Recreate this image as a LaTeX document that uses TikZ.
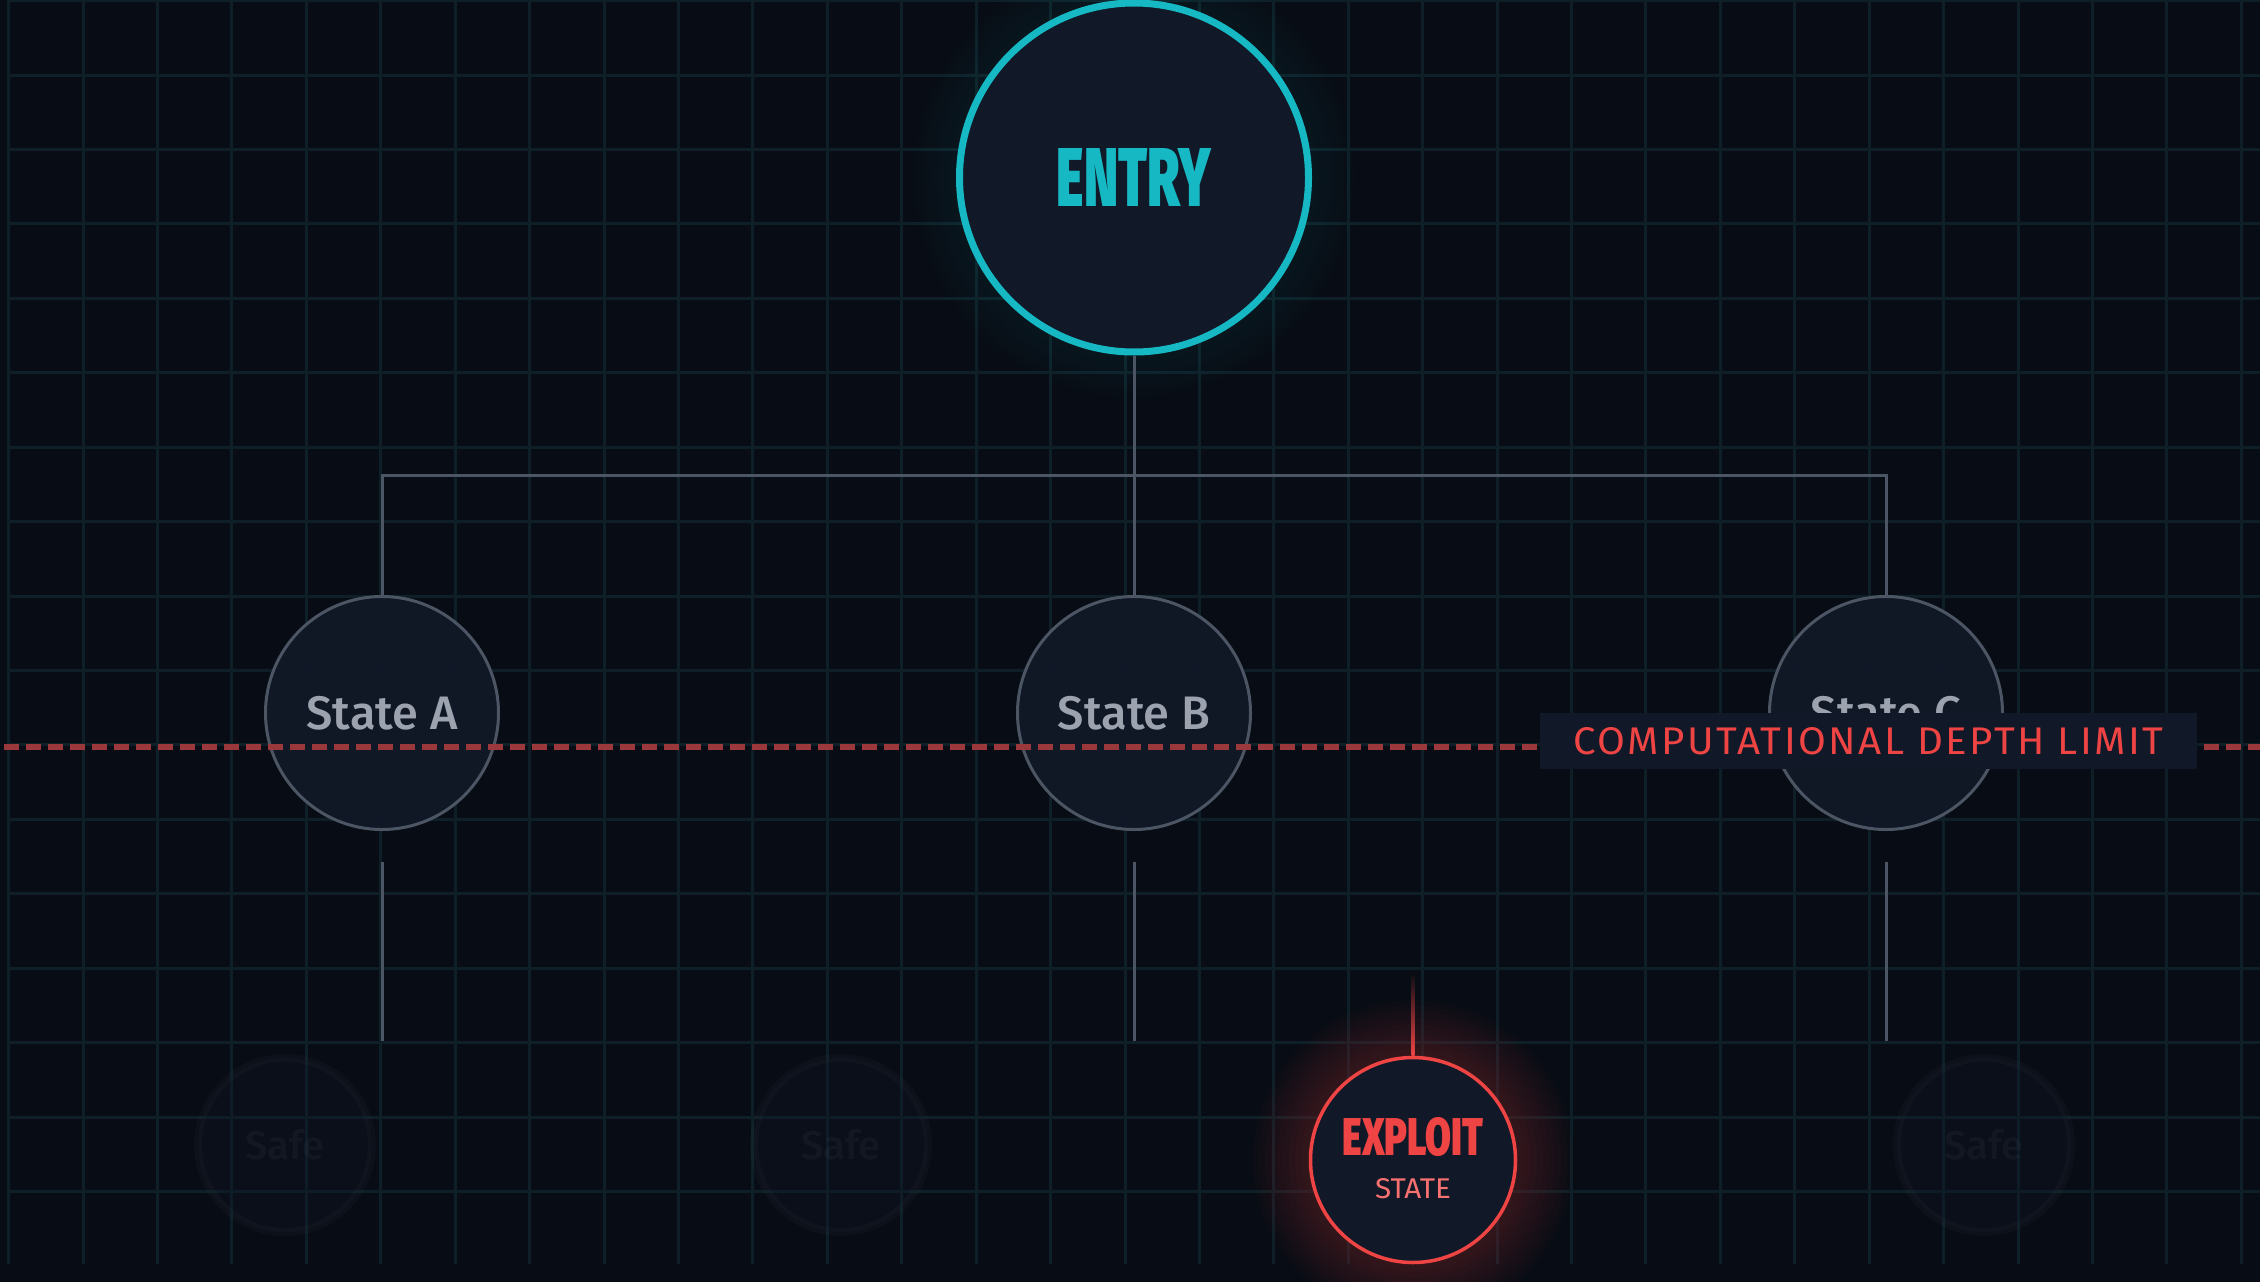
\documentclass[tikz,border=0pt]{standalone}
\usepackage{fontspec}
\usepackage{graphicx}
\setmainfont{Fira Sans}
\newfontfamily\heavyfont{Fira Sans Black}
\newfontfamily\mediumfont{Fira Sans Medium}
\newfontfamily\spacedfont[LetterSpace=6]{Fira Sans}
\definecolor{bgc}{HTML}{080C14}
\definecolor{gridc}{HTML}{0E1F27}
\definecolor{nodefill}{HTML}{111827}
\definecolor{wirec}{HTML}{4B5563}
\definecolor{statetext}{HTML}{9CA3AF}
\definecolor{entryc}{HTML}{16B9C3}
\definecolor{exploitred}{HTML}{EF4444}
\definecolor{statered}{HTML}{F87171}
\definecolor{dashred}{HTML}{9B383C}
\tikzset{
  gridline/.style={gridc, line width=3pt},
  wire/.style={wirec, line width=3pt},
  statenode/.style={circle, draw=wirec, line width=3pt, fill=nodefill, fill opacity=0.92, text opacity=1,
    minimum size=233pt, inner sep=0pt, text=statetext, font={\mediumfont\fontsize{47}{47}\selectfont}},
  entrynode/.style={circle, draw=entryc, line width=7pt, fill=nodefill, minimum size=349pt, inner sep=0pt, text=entryc},
  exploitnode/.style={circle, draw=exploitred, line width=3.5pt, fill=nodefill, minimum size=205pt, inner sep=0pt},
  safenode/.style={circle, draw=wirec, draw opacity=0.08, line width=8pt, fill=nodefill, fill opacity=0.3,
    text=statetext, text opacity=0.06, minimum size=174pt, inner sep=0pt, font={\mediumfont\fontsize{40}{40}\selectfont}},
  limitline/.style={dashred, line width=6pt, dash pattern=on 15pt off 7pt},
  limitlabel/.style={fill=nodefill, minimum width=657pt, minimum height=56pt, inner sep=0pt, text=exploitred}
}
\begin{document}
\begin{tikzpicture}[x=1pt,y=-1pt]
% background and grid
\fill[bgc] (0,0) rectangle (2260,1282);
\useasboundingbox (0,0) rectangle (2260,1282);
\foreach \i in {0,...,30}
  \draw[gridline] ({8.7+74.42*\i},0) -- ({8.7+74.42*\i},1264);
\foreach \j in {0,...,16}
  \draw[gridline] (7,{0.7+74.42*\j}) -- (2260,{0.7+74.42*\j});
% glows
\coordinate (entrypos) at (1134,177.5);
\coordinate (exploitpos) at (1413,1160);
\foreach \r in {180,185,...,225}
  \fill[entryc, opacity=0.008] (entrypos) circle (\r);
\foreach \r in {106,112,...,160}
  \fill[exploitred, opacity=0.022] (exploitpos) circle (\r);
% nodes
\node[entrynode] (entry) at (entrypos) {\resizebox{154pt}{58pt}{\heavyfont ENTRY}};
\node[statenode] (stateA) at (382,713) {State A};
\node[statenode] (stateB) at (1134,713) {State B};
\node[statenode] (stateC) at (1886,713) {State C};
\node[safenode] (safeA) at (285,1145) {Safe};
\node[safenode] (safeB) at (841,1145) {Safe};
\node[safenode] (safeC) at (1984,1145) {Safe};
\node[exploitnode] (exploit) at (exploitpos) {};
\node[text=exploitred] (exploitname) at (1413,1137) {\resizebox{141pt}{38pt}{\heavyfont EXPLOIT}};
\node[text=statered] (exploitsub) at (1413,1189) {\resizebox{76pt}{20pt}{STATE}};
% tree
\coordinate (fork) at (1134,475);
\draw[wire] (entry) -- (fork);
\draw[wire] (stateA) |- (fork) -| (stateC);
\draw[wire] (fork) -- (stateB);
\coordinate (stubA) at (382,1041);
\coordinate (stubB) at (1134,1041);
\coordinate (stubC) at (1886,1041);
\draw[wire, shorten <=31pt] (stateA) -- (stubA);
\draw[wire, shorten <=31pt] (stateB) -- (stubB);
\draw[wire, shorten <=31pt] (stateC) -- (stubC);
\coordinate (leak) at (1413,972);
\shade[top color=bgc, bottom color=exploitred] ([xshift=-1.5pt]leak) rectangle ([xshift=1.5pt]exploit.north);
% depth limit
\coordinate (limitL) at (4,746.5);
\coordinate (limitR) at (2260,746.5);
\draw[limitline] (limitL) -- (limitR);
\node[limitlabel] (limit) at (1868.5,741) {\resizebox{590pt}{27pt}{\spacedfont COMPUTATIONAL DEPTH LIMIT}};
\end{tikzpicture}
\end{document}
